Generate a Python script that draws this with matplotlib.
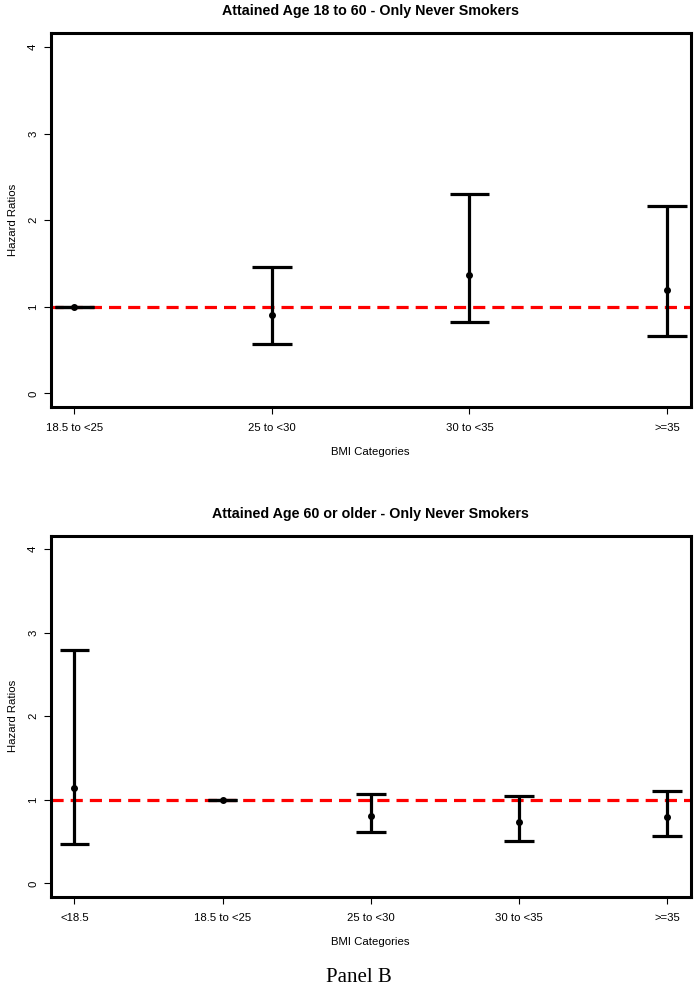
import numpy as np
import matplotlib
matplotlib.use('Agg')
import matplotlib.pyplot as plt

# top panel: attained age 18 to 60
cats1 = ['18.5 to <25', '25 to <30', '30 to <35', '>=35']
hr1 = [1.0, 0.91, 1.37, 1.19]
lo1 = [1.0, 0.57, 0.82, 0.66]
hi1 = [1.0, 1.46, 2.30, 2.17]

# bottom panel: attained age 60 or older
cats2 = ['<18.5', '18.5 to <25', '25 to <30', '30 to <35', '>=35']
hr2 = [1.14, 1.0, 0.80, 0.73, 0.79]
lo2 = [0.47, 1.0, 0.61, 0.51, 0.57]
hi2 = [2.79, 1.0, 1.07, 1.04, 1.11]

titles = ['Attained Age 18 to 60 - Only Never Smokers',
          'Attained Age 60 or older - Only Never Smokers']

plt.rcParams['font.family'] = ['Liberation Sans', 'DejaVu Sans']

fig = plt.figure(figsize=(6.97, 9.99), dpi=100)

def panel(rect, cats, hr, lo, hi, title):
    ax = fig.add_axes(rect)
    n = len(cats)
    x = np.arange(1, n + 1)
    pad = (n - 1) * 0.04
    ax.set_xlim(1 - pad, n + pad)
    ax.set_ylim(-0.16, 4.16)
    ax.axhline(1, color='red', lw=2.3, ls=(0, (3.8, 2.2)), zorder=1)
    ax.vlines(x, lo, hi, color='black', lw=2.3, zorder=2)
    ax.hlines(lo, x - 0.1, x + 0.1, color='black', lw=2.3, zorder=2)
    ax.hlines(hi, x - 0.1, x + 0.1, color='black', lw=2.3, zorder=2)
    ax.plot(x, hr, 'o', color='black', markersize=4, zorder=3)
    ax.set_xticks(x)
    ax.set_xticklabels(cats, fontsize=8.2)
    ax.set_yticks([0, 1, 2, 3, 4])
    ax.set_yticklabels(['0', '1', '2', '3', '4'], fontsize=8.2, rotation=90, va='center')
    ax.tick_params(length=5, width=0.8, pad=6.5)
    ax.tick_params(axis='y', pad=4)
    for s in ax.spines.values():
        s.set_linewidth(2.2)
    ax.set_xlabel('BMI Categories', fontsize=8.2, labelpad=10)
    ax.set_ylabel('Hazard Ratios', fontsize=8.2, labelpad=7)
    ax.set_title(title, fontsize=10.3, fontweight='bold', pad=13)
    return ax

panel([0.0727, 0.5923, 0.9183, 0.3744], cats1, hr1, lo1, hi1, titles[0])
panel([0.0727, 0.1024, 0.9183, 0.3614], cats2, hr2, lo2, hi2, titles[1])

fig.text(0.515, 0.012, 'Panel B', fontsize=15, family='Liberation Serif', ha='center', va='bottom')

fig.savefig('out.png', dpi=100)
